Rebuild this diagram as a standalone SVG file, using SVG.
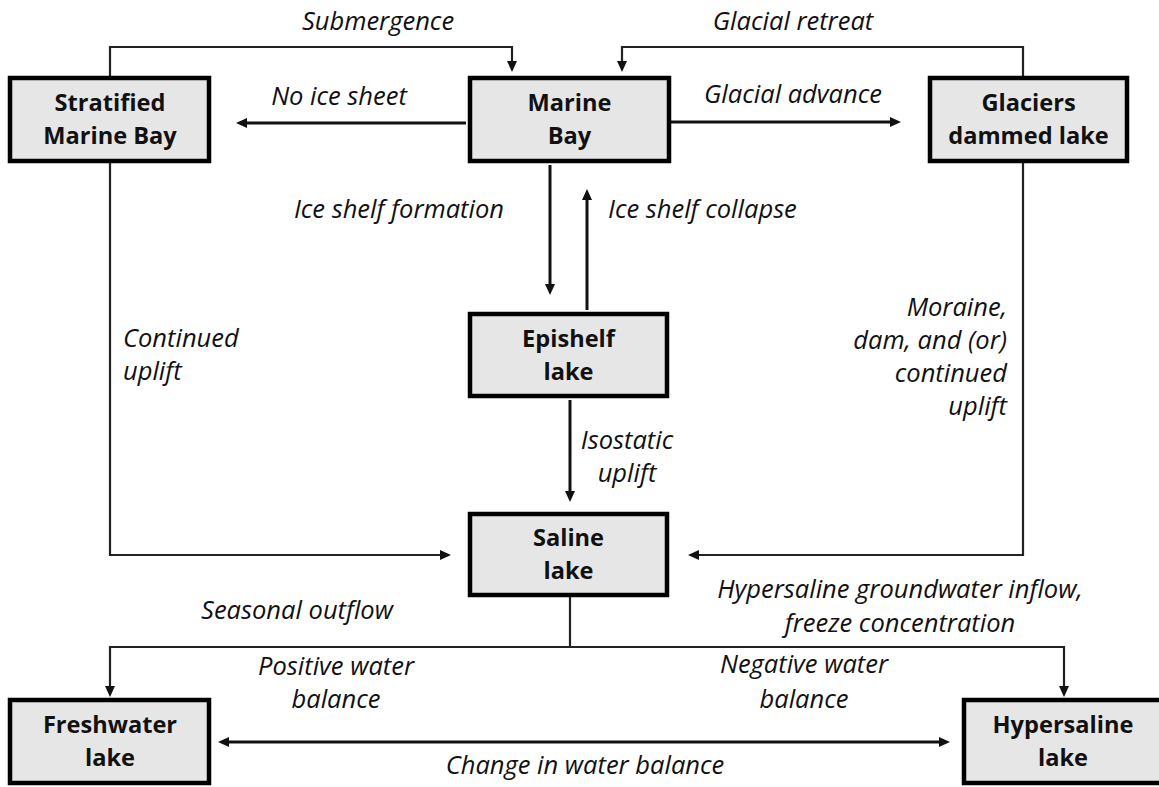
<svg xmlns="http://www.w3.org/2000/svg" width="1159" height="787" viewBox="0 0 1159 787">
<style>
.box{fill:#e6e6e6;stroke:#000;stroke-width:4.5}
.bt{font-family:"Open Sans","Liberation Sans",sans-serif;font-weight:bold;font-size:23.6px;fill:#111;text-anchor:middle}
.lb{font-family:"Open Sans","Liberation Sans",sans-serif;font-style:italic;font-size:25.5px;fill:#111}
.c{text-anchor:middle}
.e{text-anchor:end}
.s{text-anchor:start}
.thin{fill:none;stroke:#222;stroke-width:2.2}
.thick{fill:none;stroke:#111;stroke-width:3}
</style>
<defs>
<marker id="ah" viewBox="0 0 11 10" markerUnits="userSpaceOnUse" markerWidth="11" markerHeight="10" refX="1" refY="5" orient="auto-start-reverse">
<path d="M0,0 L11,5 L0,10 z" fill="#111"/>
</marker>
</defs>
<g id="connectors">
<path class="thin" d="M110,76 V47 H512 V62" marker-end="url(#ah)"/>
<path class="thin" d="M1023,76 V47 H622 V62" marker-end="url(#ah)"/>
<path class="thick" d="M466,123 H246" marker-end="url(#ah)"/>
<path class="thick" d="M671,122 H891" marker-end="url(#ah)"/>
<path class="thick" d="M550,165 V285" marker-end="url(#ah)"/>
<path class="thick" d="M587,310 V199" marker-end="url(#ah)"/>
<path class="thick" d="M570,400 V492" marker-end="url(#ah)"/>
<path class="thin" d="M110,163 V555 H441" marker-end="url(#ah)"/>
<path class="thin" d="M1023,163 V555 H698" marker-end="url(#ah)"/>
<path class="thin" d="M570,597 V647"/>
<path class="thin" d="M570,647 H110 V687" marker-end="url(#ah)"/>
<path class="thin" d="M570,647 H1064 V687" marker-end="url(#ah)"/>
<path class="thick" d="M228,742 H940" marker-start="url(#ah)" marker-end="url(#ah)"/>
</g>
<g id="node-stratified">
<rect class="box" x="10" y="78" width="199" height="83"/>
<text class="bt" x="110" y="111">Stratified</text>
<text class="bt" x="110" y="144">Marine Bay</text>
</g>
<g id="node-marine">
<rect class="box" x="470" y="78" width="199" height="83"/>
<text class="bt" x="569.5" y="111">Marine</text>
<text class="bt" x="569.5" y="144">Bay</text>
</g>
<g id="node-glaciers">
<rect class="box" x="930" y="78" width="197" height="83"/>
<text class="bt" x="1028.5" y="111">Glaciers</text>
<text class="bt" x="1028.5" y="144">dammed lake</text>
</g>
<g id="node-epishelf">
<rect class="box" x="470" y="314" width="197" height="82"/>
<text class="bt" x="568.5" y="347">Epishelf</text>
<text class="bt" x="568.5" y="380">lake</text>
</g>
<g id="node-saline">
<rect class="box" x="470" y="514" width="197" height="81"/>
<text class="bt" x="568.5" y="546">Saline</text>
<text class="bt" x="568.5" y="579">lake</text>
</g>
<g id="node-freshwater">
<rect class="box" x="10" y="700" width="199" height="83"/>
<text class="bt" x="110" y="733">Freshwater</text>
<text class="bt" x="110" y="766">lake</text>
</g>
<g id="node-hypersaline">
<rect class="box" x="964" y="700" width="201" height="83"/>
<text class="bt" x="1063" y="733">Hypersaline</text>
<text class="bt" x="1063" y="766">lake</text>
</g>
<g id="labels">
<text class="lb c" x="378" y="30">Submergence</text>
<text class="lb c" x="793" y="30">Glacial retreat</text>
<text class="lb c" x="339" y="105">No ice sheet</text>
<text class="lb c" x="793" y="103">Glacial advance</text>
<text class="lb e" x="504" y="218">Ice shelf formation</text>
<text class="lb s" x="608" y="218">Ice shelf collapse</text>
<text class="lb s" x="123" y="347">Continued</text>
<text class="lb s" x="123" y="380">uplift</text>
<text class="lb e" x="1007" y="316">Moraine,</text>
<text class="lb e" x="1007" y="349">dam, and (or)</text>
<text class="lb e" x="1007" y="382">continued</text>
<text class="lb e" x="1007" y="415">uplift</text>
<text class="lb c" x="627" y="449">Isostatic</text>
<text class="lb c" x="627" y="482">uplift</text>
<text class="lb c" x="297" y="619">Seasonal outflow</text>
<text class="lb c" x="900" y="598">Hypersaline groundwater inflow,</text>
<text class="lb c" x="900" y="632">freeze concentration</text>
<text class="lb c" x="336" y="675">Positive water</text>
<text class="lb c" x="336" y="708">balance</text>
<text class="lb c" x="804" y="673">Negative water</text>
<text class="lb c" x="804" y="708">balance</text>
<text class="lb c" x="585" y="774">Change in water balance</text>
</g>
</svg>
